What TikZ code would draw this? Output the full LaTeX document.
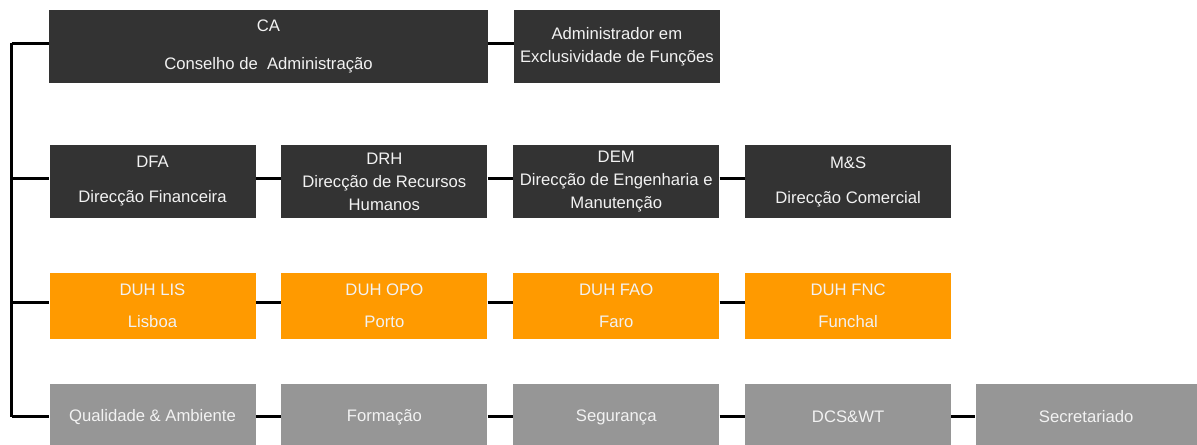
\documentclass[tikz,border=0pt]{standalone}
\usepackage{fontspec}
\setmainfont{Liberation Sans}
\usetikzlibrary{positioning}
\definecolor{boxdark}{HTML}{333333}
\definecolor{boxorange}{HTML}{FF9A00}
\definecolor{boxgrey}{HTML}{969696}
\definecolor{boxtext}{HTML}{F2F2F2}

\begin{document}
\begin{tikzpicture}[x=0.75pt,y=-0.75pt,
    every node/.style={font=\fontsize{12.5}{17.25}\selectfont,text=boxtext,
      align=center,inner sep=0pt,minimum width=154.5pt},
    darkbox/.style={fill=boxdark,minimum height=54.75pt},
    orangebox/.style={fill=boxorange,minimum height=49.5pt},
    greybox/.style={fill=boxgrey,minimum height=49.5pt},
    link/.style={draw=black,line width=2.25pt}]
  \useasboundingbox (0,0) rectangle (1197,445);
  \clip (0,0) rectangle (1197,445);

  % board
  \node[darkbox,minimum width=329.25pt] (ca) at (268.5,46.5)
    {CA\\[11.25pt]Conselho de \ Administração};
  \node[darkbox,right=19pt of ca] (admin) {Administrador em\\Exclusividade de Funções};

  % directions
  \node[darkbox] (dfa) at (152.5,181.5) {DFA\\[9pt]Direcção Financeira};
  \node[darkbox,right=19pt of dfa] (drh) {DRH\\Direcção de Recursos\\Humanos};
  \node[darkbox,right=19pt of drh] (dem) {DEM\\Direcção de Engenharia e\\Manutenção};
  \node[darkbox,right=19pt of dem] (mks) {M\&S\\[9pt]Direcção Comercial};

  % hotel units
  \node[orangebox] (lis) at (152.5,306) {DUH LIS\\[6.75pt]Lisboa};
  \node[orangebox,right=19pt of lis] (opo) {DUH OPO\\[6.75pt]Porto};
  \node[orangebox,right=19pt of opo] (fao) {DUH FAO\\[6.75pt]Faro};
  \node[orangebox,right=19pt of fao] (fnc) {DUH FNC\\[6.75pt]Funchal};

  % support services
  \node[greybox] (qa) at (152.5,417) {Qualidade \& Ambiente};
  \node[greybox,right=19pt of qa] (form) {Formação};
  \node[greybox,right=19pt of form] (seg) {Segurança};
  \node[greybox,right=19pt of seg] (dcs) {DCS\&WT};
  \node[greybox,right=18pt of dcs,minimum width=165.75pt] (sec) {Secretariado};

  % connectors
  \coordinate (spine) at (11.5,0);
  \draw[link] ([yshift=2.5pt]ca.west -| spine) -- (qa.west -| spine);
  \foreach \n in {ca,dfa,lis}
    \draw[link] ([yshift=2.5pt]\n.west -| spine) -- ([yshift=2.5pt]\n.west);
  \draw[link] (qa.west -| spine) -- (qa.west);
  \foreach \a/\b in {ca/admin,dfa/drh,drh/dem,dem/mks,lis/opo,opo/fao,fao/fnc}
    \draw[link] ([yshift=2.5pt]\a.east) -- ([yshift=2.5pt]\b.west);
  \foreach \a/\b in {qa/form,form/seg,seg/dcs,dcs/sec}
    \draw[link] (\a) -- (\b);
\end{tikzpicture}
\end{document}
